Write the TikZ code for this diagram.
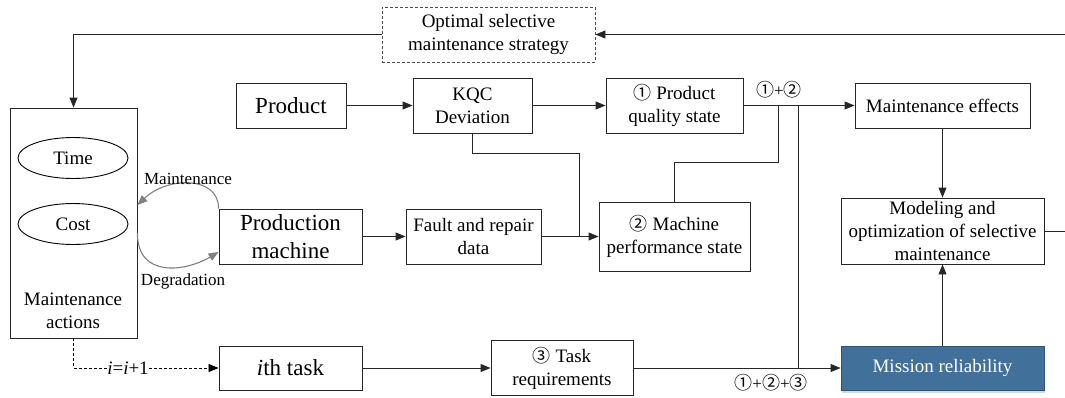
\documentclass[tikz,border=0pt]{standalone}
\usepackage{fontspec}
\setmainfont{LiberationSerif}[Extension=.ttf,UprightFont=*-Regular,ItalicFont=*-Italic,BoldFont=*-Bold,BoldItalicFont=*-BoldItalic]
\newfontfamily\circf{Noto Sans CJK SC}
\usetikzlibrary{arrows.meta,calc,shadows,shapes.geometric}
\newcommand{\cone}{{\circf\fontsize{18}{18}\selectfont ①}}
\newcommand{\ctwo}{{\circf\fontsize{18}{18}\selectfont ②}}
\newcommand{\cthree}{{\circf\fontsize{18}{18}\selectfont ③}}
\definecolor{mrfill}{RGB}{65,112,155}
\definecolor{mrdraw}{RGB}{47,82,115}
\definecolor{mrshadow}{RGB}{205,218,232}
\definecolor{curvegray}{RGB}{128,128,128}
\begin{document}
\begin{tikzpicture}[x=1pt,y=-1pt,
  box/.style={draw=black!85,line width=0.9pt,fill=white,align=center,inner sep=2pt,
    font=\rmfamily\fontsize{19}{23}\selectfont},
  bigbox/.style={box,font=\rmfamily\fontsize{23}{28}\selectfont},
  ell/.style={draw=black,line width=0.9pt,ellipse,minimum width=110pt,minimum height=41pt,
    font=\rmfamily\fontsize{19}{23}\selectfont},
  conn/.style={line width=0.9pt,draw=black!85,-{Triangle[length=10pt,width=8pt]}},
  plain/.style={line width=0.9pt,draw=black!85},
  gcurve/.style={line width=1.1pt,draw=curvegray,-{Triangle[length=10pt,width=8pt]},fill=none},
  lbl/.style={font=\rmfamily\fontsize{17}{20}\selectfont,inner sep=1pt},
  sz/.style 2 args={minimum width=#1pt,minimum height=#2pt}
]
\useasboundingbox (0,0) rectangle (1065,397);

% nodes
\node[box,dashed,dash pattern=on 3pt off 2pt,draw=black!70,sz={213}{55}] (opt) at (488.5,34.5)
  {Optimal selective\\maintenance strategy};
\node[box,sz={127}{230}] (mact) at (73.5,223) {};
\node[ell] (time) at (73,158) {Time};
\node[ell] (cost) at (73,224) {Cost};
\node[box,fill=none,draw=none] (matext) at (73,311) {Maintenance\\actions};

\node[bigbox,sz={110}{45}] (product) at (291,105.5) {Product};
\node[box,sz={119}{55}] (kqc) at (472.5,105.5) {KQC\\Deviation};
\node[box,sz={137}{55}] (pqs) at (674.5,105.5) {\cone{} Product\\quality state};
\node[box,sz={175}{45}] (meff) at (942.5,105.5) {Maintenance effects};

\node[bigbox,sz={143}{55}] (pm) at (290.5,236.5) {Production\\machine};
\node[box,sz={135}{55}] (frd) at (473.5,236.5) {Fault and repair\\data};
\node[box,sz={151}{69}] (mps) at (674.5,236.5) {\ctwo{} Machine\\performance state};
\node[box,sz={203}{66}] (model) at (942.5,231) {Modeling and\\optimization of selective\\maintenance};

\node[bigbox,sz={143}{44}] (ith) at (290.5,368) {\textit{i}th task};
\node[box,sz={142}{55}] (tr) at (562,368) {\cthree{} Task\\requirements};
\node[box,sz={203}{44},fill=mrfill,draw=mrdraw,text=white,
  drop shadow={shadow xshift=1pt,shadow yshift=-3pt,fill=mrshadow,opacity=1}] (mr) at (942.5,368) {Mission reliability};

% coordinates
\coordinate (rtop) at (1065,34.5);
\coordinate (rmid) at (1065,231);
\coordinate (j1) at (778,105.5);
\coordinate (j2) at (798,105.5);
\coordinate (j1b) at (778,162);
\coordinate (kb) at (472.5,153);
\coordinate (kc) at (579,153);
\coordinate (kd) at (579,236.5);
\coordinate (j2b) at (798,368);
\coordinate (dl) at (73.5,368);

% connectors
\draw[conn] (rtop) -- (opt.east);
\draw[conn] (opt.west) -| (mact.north);
\draw[conn] (product) -- (kqc);
\draw[conn] (kqc) -- (pqs);
\draw[conn] (pqs.east) -- (meff.west);
\draw[plain] (j1) -- (j1b) -| (mps.north);
\draw[plain] (kqc.south) -- (kb) -- (kc) -- (kd);
\draw[plain] (j2) -- (j2b);
\draw[conn] (pm) -- (frd);
\draw[conn] (frd) -- (mps);
\draw[conn] (ith) -- (tr);
\draw[conn] (tr) -- (mr);
\draw[conn] (meff) -- (model);
\draw[conn] (mr) -- (model);
\draw[plain] (model.east) -- (rmid);

\draw[line width=0.8pt,dashed,dash pattern=on 3pt off 2pt,-{Triangle[length=10pt,width=8pt]}]
  (mact.south) -- (dl) -- (ith.west);
\node[lbl,fill=white,inner sep=0.5pt,font=\rmfamily\fontsize{19}{20}\selectfont] (inc) at (128,368) {\textit{i}=\textit{i}+1};

% curves
\draw[gcurve] (pm.north west) .. controls (219,176) and (168,176) .. ([yshift=18pt]mact.east);
\draw[gcurve] ([yshift=-10pt]mact.east) .. controls (137,278) and (185,272) .. ([yshift=-15.5pt]pm.west);
\node[lbl] (lmaint) at (188,179) {Maintenance};
\node[lbl] (ldeg) at (183,281) {Degradation};

% combo labels
\node[lbl] (l12) at (779,90) {\cone+\ctwo};
\node[lbl] (l123) at (771,383) {\cone+\ctwo+\cthree};
\end{tikzpicture}
\end{document}
